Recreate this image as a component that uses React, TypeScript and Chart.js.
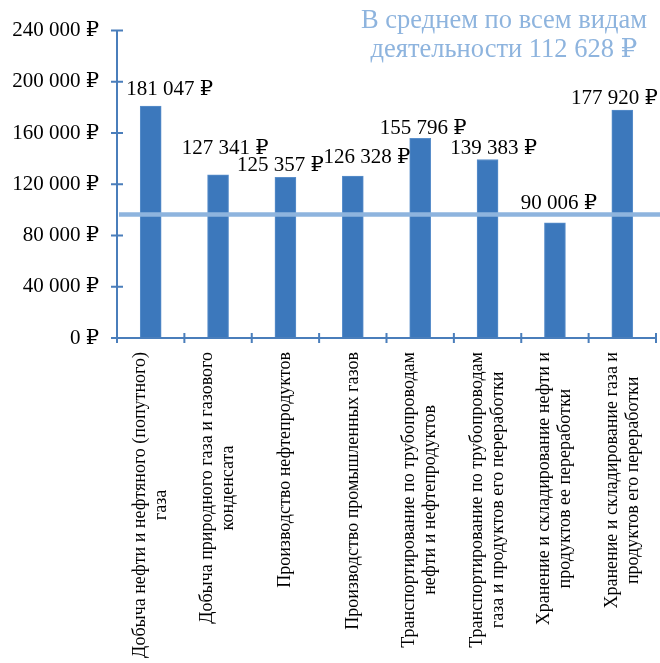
import React, { useEffect, useRef } from "react";
import { Chart, registerables } from "chart.js";

Chart.register(...registerables);

const categories: string[][] = [
  ["Добыча нефти и нефтяного (попутного)", "газа"],
  ["Добыча природного газа и газового", "конденсата"],
  ["Производство нефтепродуктов"],
  ["Производство промышленных газов"],
  ["Транспортирование по трубопроводам", "нефти и нефтепродуктов"],
  ["Транспортирование по трубопроводам", "газа и продуктов его переработки"],
  ["Хранение и складирование нефти и", "продуктов ее переработки"],
  ["Хранение и складирование газа и", "продуктов его переработки"],
];

const salaries: number[] = [181047, 127341, 125357, 126328, 155796, 139383, 90006, 177920];

// Horizontal reference line as drawn in the picture, and the average quoted in its caption
const averageLineValue = 96500;
const averageCaptionValue = 112628;
const averageCaption: string[] = ["В среднем по всем видам", "деятельности"];

const yTicks: number[] = [0, 40000, 80000, 120000, 160000, 200000, 240000];

// manual placement of the value labels (px): horizontal shift and gap above the bar
const labelShiftX: number[] = [19, 7, -5, 14, 3, 6, 4, -8];
const labelGapY: number[] = [11, 21, 6, 13, 4, 5, 14, 6];

const SERIF = '"Liberation Serif", "Times New Roman", "DejaVu Serif", serif';
const AXIS_COLOR = "#4A7EBB";
const BAR_COLOR = "#3C78BC";
const AVG_COLOR = "#8EB4DE";

const rub = (v: number) =>
  String(Math.round(v)).replace(/\B(?=(\d{3})+(?!\d))/g, " ") + " ₽";

const overlayPlugin = {
  id: "overlay",
  afterDatasetsDraw(chart: any) {
    const ctx = chart.ctx as CanvasRenderingContext2D;
    const x = chart.scales.x;
    const y = chart.scales.y;
    const area = chart.chartArea;
    ctx.save();

    // average line
    const ay = y.getPixelForValue(averageLineValue);
    ctx.strokeStyle = AVG_COLOR;
    ctx.lineWidth = 4.5;
    ctx.beginPath();
    ctx.moveTo(area.left + 2, ay);
    ctx.lineTo(chart.width, ay);
    ctx.stroke();

    // axes
    ctx.strokeStyle = AXIS_COLOR;
    ctx.lineWidth = 2;
    ctx.beginPath();
    ctx.moveTo(area.left, y.getPixelForValue(yTicks[yTicks.length - 1]));
    ctx.lineTo(area.left, y.getPixelForValue(0));
    ctx.moveTo(area.left, y.getPixelForValue(0));
    ctx.lineTo(area.right + 1, y.getPixelForValue(0));
    ctx.stroke();
    ctx.beginPath();
    yTicks.forEach((t) => {
      const py = y.getPixelForValue(t);
      ctx.moveTo(area.left - 6, py);
      ctx.lineTo(area.left + 6, py);
    });
    const n = categories.length;
    const y0 = y.getPixelForValue(0);
    const step = x.getPixelForValue(1) - x.getPixelForValue(0);
    for (let i = 0; i <= n; i++) {
      const px = i < n ? x.getPixelForValue(i) - step / 2 : area.right;
      ctx.moveTo(px, y0 - 5);
      ctx.lineTo(px, y0 + 5);
    }
    ctx.stroke();

    // data labels
    const meta = chart.getDatasetMeta(0);
    ctx.fillStyle = "#000";
    ctx.font = `21px ${SERIF}`;
    ctx.textAlign = "center";
    ctx.textBaseline = "alphabetic";
    meta.data.forEach((bar: any, i: number) => {
      ctx.fillText(rub(salaries[i]), bar.x + labelShiftX[i], bar.y - labelGapY[i]);
    });

    // category labels (rotated)
    ctx.font = `18px ${SERIF}`;
    const lh = 21;
    const top = y0 + 14;
    categories.forEach((lines, i) => {
      const cx = x.getPixelForValue(i);
      const maxW = Math.max(...lines.map((l) => ctx.measureText(l).width));
      ctx.save();
      ctx.translate(cx, top);
      ctx.rotate(-Math.PI / 2);
      ctx.textAlign = "center";
      ctx.textBaseline = "middle";
      lines.forEach((l, j) => {
        ctx.fillText(l, -maxW / 2, (j - (lines.length - 1) / 2) * lh);
      });
      ctx.restore();
    });

    // caption
    ctx.fillStyle = AVG_COLOR;
    ctx.font = `26.5px ${SERIF}`;
    ctx.textAlign = "center";
    ctx.textBaseline = "alphabetic";
    const capX = 504;
    ctx.fillText(averageCaption[0], capX, 28);
    ctx.fillText(averageCaption[1] + " " + rub(averageCaptionValue), capX, 57);

    ctx.restore();
  },
};

export default function App() {
  const ref = useRef<HTMLCanvasElement | null>(null);
  useEffect(() => {
    if (!ref.current) return;
    const chart = new Chart(ref.current, {
      type: "bar",
      data: {
        labels: categories.map((c) => c.join(" ")),
        datasets: [
          {
            data: salaries,
            backgroundColor: BAR_COLOR,
            borderColor: "#5A8FCB",
            borderWidth: 1,
            barThickness: 21,
          },
        ],
      },
      options: {
        animation: false,
        responsive: true,
        maintainAspectRatio: false,
        layout: { padding: { top: 24, right: 4, bottom: 325, left: 0 } },
        plugins: { legend: { display: false }, tooltip: { enabled: false } },
        scales: {
          x: {
            grid: { display: false, drawTicks: false },
            border: { display: false },
            ticks: { display: false },
            afterFit: (s: any) => {
              s.height = 0;
            },
          },
          y: {
            min: 0,
            max: 240000,
            grid: { display: false, drawTicks: false },
            border: { display: false },
            afterFit: (s: any) => {
              s.width = 117;
            },
            afterBuildTicks: (s: any) => {
              s.ticks = yTicks.map((v) => ({ value: v }));
            },
            ticks: {
              padding: 18,
              color: "#000",
              font: { family: SERIF, size: 21 },
              callback: (v: any) => rub(Number(v)),
            },
          },
        },
      },
      plugins: [overlayPlugin],
    });
    return () => chart.destroy();
  }, []);
  return (
    <div style={{ position: "absolute", left: 0, top: 0, width: 660, height: 663, background: "#fff" }}>
      <canvas ref={ref} />
    </div>
  );
}
